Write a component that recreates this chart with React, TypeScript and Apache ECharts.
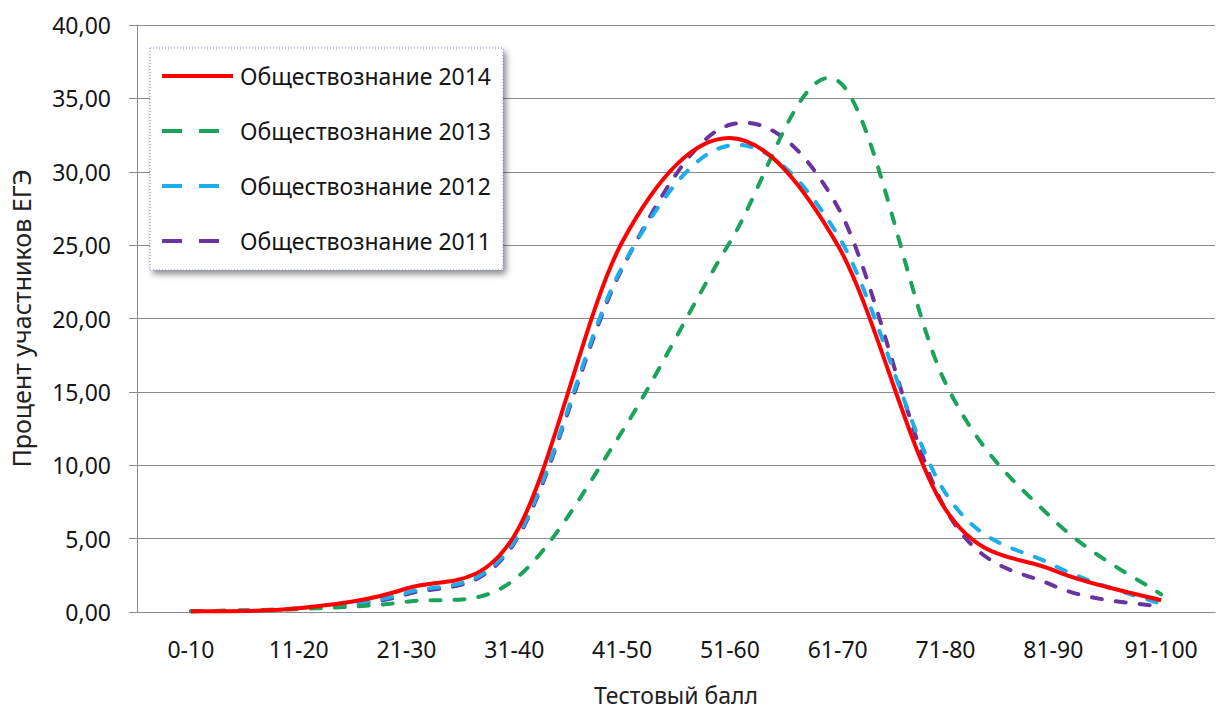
import React, { useEffect, useRef } from "react";
import * as echarts from "echarts";

const categories = ["0-10", "11-20", "21-30", "31-40", "41-50", "51-60", "61-70", "71-80", "81-90", "91-100"];
const seriesNames = ["Обществознание 2014", "Обществознание 2013", "Обществознание 2012", "Обществознание 2011"];
const values2014 = [0.05, 0.25, 1.6, 5.2, 25.2, 32.3, 25.0, 7.0, 2.85, 0.8];
const values2013 = [0.05, 0.2, 0.7, 2.2, 12.3, 25.2, 36.2, 15.6, 6.3, 1.2];
const values2012 = [0.05, 0.25, 1.3, 4.8, 23.5, 31.8, 25.7, 8.1, 3.2, 0.55];
const values2011 = [0.05, 0.25, 1.2, 4.7, 23.4, 33.2, 27.6, 7.0, 1.8, 0.35];
const yTicks = { min: 0, max: 40, interval: 5 };
const xAxisTitle = "Тестовый балл";
const yAxisTitle = "Процент участников ЕГЭ";

const colors = ["#FF0000", "#1BA35B", "#1CAEEA", "#6A34A0"];
const FONT = "'Noto Sans', sans-serif";
const SOLID_ICON = "path://M0,0h71v4h-71z";
const DASH_ICON = "path://M0,0h20v4h-20z M37,0h20v4h-20z M71,0v4";

function smoothPath(pts: number[][]): string {
  let d = `M${pts[0][0]},${pts[0][1]}`;
  for (let k = 0; k < pts.length - 1; k++) {
    const p0 = pts[k - 1] || pts[k];
    const p1 = pts[k];
    const p2 = pts[k + 1];
    const p3 = pts[k + 2] || pts[k + 1];
    const c1x = p1[0] + (p2[0] - p0[0]) / 6;
    const c1y = p1[1] + (p2[1] - p0[1]) / 6;
    const c2x = p2[0] - (p3[0] - p1[0]) / 6;
    const c2y = p2[1] - (p3[1] - p1[1]) / 6;
    d += ` C${c1x},${c1y} ${c2x},${c2y} ${p2[0]},${p2[1]}`;
  }
  return d;
}

export default function App() {
  const ref = useRef<HTMLDivElement>(null);
  useEffect(() => {
    if (!ref.current) return;
    const chart = echarts.init(ref.current, undefined, { renderer: "svg" });
    const all = [values2014, values2013, values2012, values2011];
    chart.setOption({
      animation: false,
      backgroundColor: "#ffffff",
      textStyle: { fontFamily: FONT },
      grid: { left: 136, right: 1, top: 25, bottom: 83, containLabel: false },
      graphic: [
        {
          type: "rect",
          z: 1,
          shape: { x: 150, y: 48, width: 353, height: 222 },
          style: {
            fill: "#ffffff",
            stroke: "#7784d4",
            lineWidth: 1,
            lineDash: [1, 2],
            shadowBlur: 6,
            shadowOffsetX: 3,
            shadowOffsetY: 4,
            shadowColor: "rgba(0,0,0,0.45)",
          },
        },
      ],
      legend: {
        z: 10,
        orient: "vertical",
        left: 162,
        top: 63,
        itemWidth: 71,
        itemHeight: 4,
        itemGap: 29,
        padding: 0,
        data: seriesNames.map((name, i) => ({ name, icon: i === 0 ? SOLID_ICON : DASH_ICON })),
        textStyle: { fontFamily: FONT, fontSize: 23, color: "#151515", lineHeight: 26, padding: [0, 0, 0, 2] },
      },
      xAxis: {
        type: "category",
        data: categories,
        boundaryGap: true,
        name: xAxisTitle,
        nameLocation: "middle",
        nameGap: 71,
        nameTextStyle: { fontFamily: FONT, fontSize: 23, color: "#222" },
        axisLine: { lineStyle: { color: "#8a8a8a", width: 1 } },
        axisTick: { show: false },
        axisLabel: { fontFamily: FONT, fontSize: 23, color: "#151515", margin: 25 },
      },
      yAxis: {
        type: "value",
        min: yTicks.min,
        max: yTicks.max,
        interval: yTicks.interval,
        name: yAxisTitle,
        nameLocation: "middle",
        nameRotate: 90,
        nameGap: 104,
        nameTextStyle: { fontFamily: FONT, fontSize: 25, color: "#222" },
        axisLine: { show: true, lineStyle: { color: "#8a8a8a", width: 1 } },
        axisTick: { show: true, length: 8, lineStyle: { color: "#8a8a8a" } },
        axisLabel: {
          fontFamily: FONT,
          fontSize: 23,
          color: "#151515",
          margin: 26,
          formatter: (v: number) => v.toFixed(2).replace(".", ","),
        },
        splitLine: { lineStyle: { color: "#8a8a8a", width: 1 } },
      },
      series: seriesNames.map((name, i) => ({
        name,
        type: "custom",
        data: all[i].map((v, j) => [j, v]),
        encode: { x: 0, y: 1 },
        clip: false,
        z: 5 - i,
        itemStyle: { color: colors[i] },
        renderItem: (params: any, api: any) => {
          if (params.dataIndex !== 0) return null;
          const pts = all[i].map((v, j) => api.coord([j, v]));
          return {
            type: "path",
            shape: { pathData: smoothPath(pts) },
            style: {
              fill: "none",
              stroke: colors[i],
              lineWidth: 4,
              lineDash: i === 0 ? null : [10, 14],
              lineCap: i === 0 ? "butt" : "round",
              lineJoin: "round",
            },
          };
        },
      })),
    });
    return () => chart.dispose();
  }, []);
  return <div ref={ref} style={{ width: 1216, height: 711, position: "absolute", left: 0, top: 0 }} />;
}
